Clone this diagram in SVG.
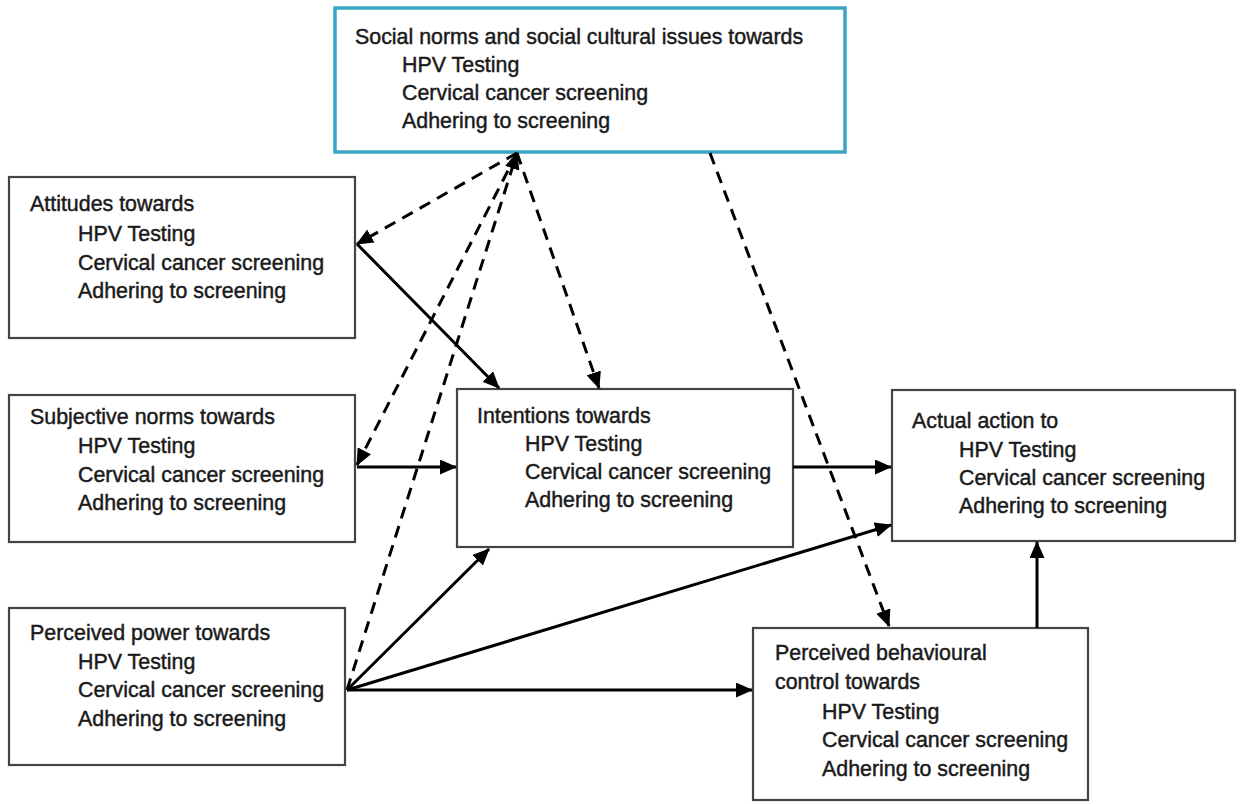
<svg xmlns="http://www.w3.org/2000/svg" width="1241" height="804" viewBox="0 0 1241 804">
<style>
.box{fill:#fff;stroke:#444;stroke-width:2.2}
.top{fill:#fff;stroke:#3aa6c4;stroke-width:3.5}
text{font-family:"Liberation Sans",Arial,sans-serif;font-size:21.4px;fill:#1a1a1a;stroke:#1a1a1a;stroke-width:0.45}
.c{fill:none;stroke:#000;stroke-width:3}
.d{stroke-dasharray:12 8}
</style>
<defs>
<marker id="ah" markerUnits="userSpaceOnUse" markerWidth="17" markerHeight="15" refX="16" refY="7.5" orient="auto">
<path d="M0,0 L17,7.5 L0,15 z" fill="#000"/>
</marker>
</defs>
<rect width="1241" height="804" fill="#fff"/>
<g id="social">
<rect class="top" x="335" y="8" width="510" height="144"/>
<text x="355" y="44">Social norms and social cultural issues towards</text>
<text x="402" y="72">HPV Testing</text>
<text x="402" y="100">Cervical cancer screening</text>
<text x="402" y="128">Adhering to screening</text>
</g>
<g id="attitudes">
<rect class="box" x="9" y="177" width="346" height="161"/>
<text x="30" y="211">Attitudes towards</text>
<text x="78" y="241">HPV Testing</text>
<text x="78" y="270">Cervical cancer screening</text>
<text x="78" y="298">Adhering to screening</text>
</g>
<g id="subjective">
<rect class="box" x="9" y="395" width="346" height="147"/>
<text x="30" y="424">Subjective norms towards</text>
<text x="78" y="453">HPV Testing</text>
<text x="78" y="482">Cervical cancer screening</text>
<text x="78" y="510">Adhering to screening</text>
</g>
<g id="intentions">
<rect class="box" x="457" y="389" width="336" height="158"/>
<text x="477" y="423">Intentions towards</text>
<text x="525" y="451">HPV Testing</text>
<text x="525" y="479">Cervical cancer screening</text>
<text x="525" y="507">Adhering to screening</text>
</g>
<g id="action">
<rect class="box" x="892" y="390" width="343" height="151"/>
<text x="912" y="428">Actual action to</text>
<text x="959" y="457">HPV Testing</text>
<text x="959" y="485">Cervical cancer screening</text>
<text x="959" y="513">Adhering to screening</text>
</g>
<g id="power">
<rect class="box" x="9" y="608" width="336" height="157"/>
<text x="30" y="640">Perceived power towards</text>
<text x="78" y="669">HPV Testing</text>
<text x="78" y="697">Cervical cancer screening</text>
<text x="78" y="726">Adhering to screening</text>
</g>
<g id="pbc">
<rect class="box" x="753" y="628" width="335" height="172"/>
<text x="775" y="660">Perceived behavioural</text>
<text x="775" y="689">control towards</text>
<text x="822" y="719">HPV Testing</text>
<text x="822" y="747">Cervical cancer screening</text>
<text x="822" y="776">Adhering to screening</text>
</g>
<g id="connectors">
<line class="c d" x1="517" y1="153" x2="357" y2="244" marker-end="url(#ah)"/>
<line class="c d" x1="517" y1="153" x2="357" y2="465" marker-end="url(#ah)"/>
<line class="c d" x1="347" y1="690" x2="517" y2="153" marker-end="url(#ah)"/>
<line class="c d" x1="517" y1="153" x2="599" y2="388" marker-end="url(#ah)"/>
<line class="c d" x1="710" y1="153" x2="889" y2="626" marker-end="url(#ah)"/>
<line class="c" x1="357" y1="244" x2="499" y2="388" marker-end="url(#ah)"/>
<line class="c" x1="357" y1="467" x2="456" y2="467" marker-end="url(#ah)"/>
<line class="c" x1="793" y1="467" x2="891" y2="467" marker-end="url(#ah)"/>
<line class="c" x1="347" y1="690" x2="489" y2="549" marker-end="url(#ah)"/>
<line class="c" x1="347" y1="690" x2="891" y2="525" marker-end="url(#ah)"/>
<line class="c" x1="347" y1="690" x2="752" y2="690" marker-end="url(#ah)"/>
<line class="c" x1="1037" y1="628" x2="1037" y2="542" marker-end="url(#ah)"/>
</g>
</svg>
